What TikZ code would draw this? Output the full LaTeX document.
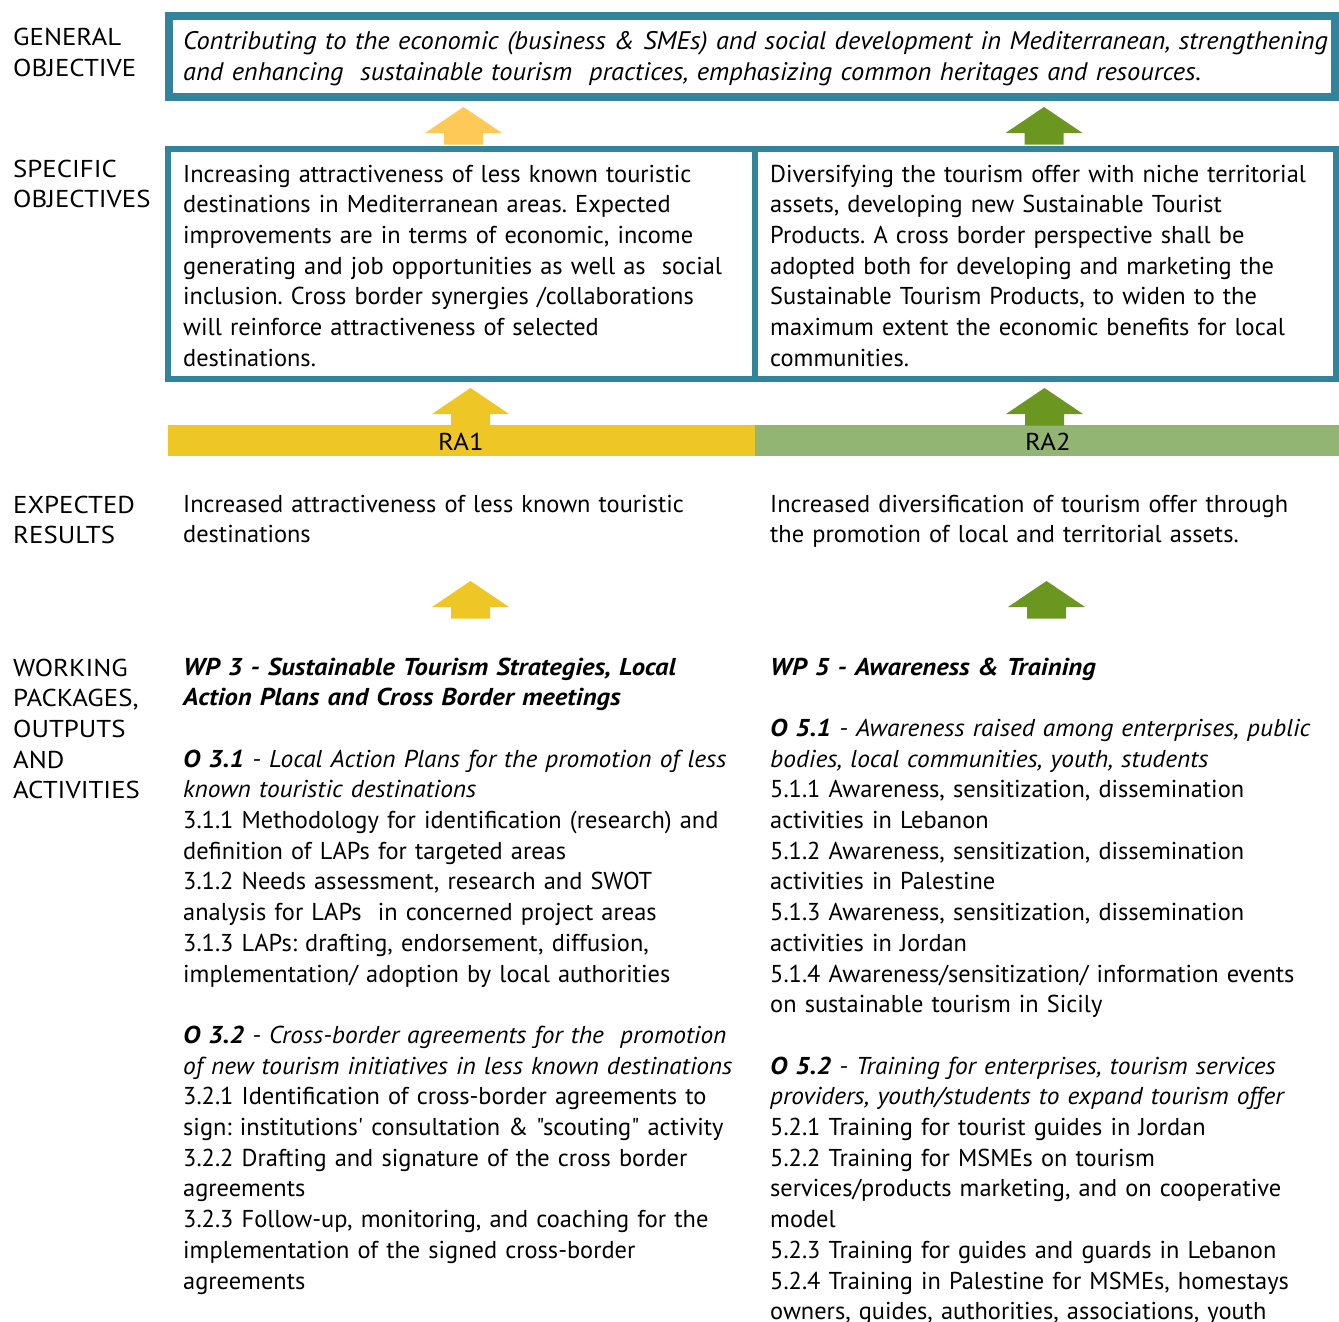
\documentclass[tikz,border=0pt]{standalone}
\usepackage{fontspec}
\setmainfont{PT Sans}[Ligatures=TeXOff,
	ItalicFeatures={FakeStretch=1.04},
	BoldItalicFeatures={FakeStretch=1.09}]
\newfontfamily\lblfont{PT Sans}[FakeStretch=1.1]
\usepackage{xcolor}
\usepackage{tikz}

\definecolor{boxteal}{HTML}{31849B}
\definecolor{arrowamber}{HTML}{FFC957}
\definecolor{ragold}{HTML}{EEC726}
\definecolor{arrowolive}{HTML}{6B961F}
\definecolor{rasage}{HTML}{93B573}

\tikzset{
	txt/.style={anchor=base west, inner sep=0, align=left, text width=#1,
		font=\fontsize{24.4}{30.7}\selectfont\frenchspacing},
	txt/.default=560,
	lbl/.style={txt=150, font=\fontsize{24.4}{30.7}\selectfont\lblfont},
	ralbl/.style={anchor=base, inner sep=0, font=\fontsize{24.4}{30.7}\selectfont\lblfont}
}

\begin{document}
\begin{tikzpicture}[x=1pt,y=-1pt]
\useasboundingbox (0,0) rectangle (1339,1322);

% row labels
\node[lbl] (genlbl) at (13,46) {GENERAL\\OBJECTIVE};
\node[lbl] (speclbl) at (13,177) {SPECIFIC\\OBJECTIVES};
\node[lbl] (reslbl) at (13,513) {EXPECTED\\RESULTS};
\node[lbl] (wplbl) at (13,676) {WORKING\\PACKAGES,\\OUTPUTS\\AND\\ACTIVITIES};

% boxes
\draw[line width=8, boxteal] (169,16) rectangle (1335,97);
\draw[line width=5.5, boxteal] (168,149) rectangle (755,379);
\draw[line width=5.5, boxteal] (755,149) rectangle (1336,379);

% RA bar
\fill[ragold] (168,425) rectangle (755,456);
\fill[rasage] (755,425) rectangle (1339,456);
\node[ralbl] (ra1) at (461,450) {RA1};
\node[ralbl] (ra2) at (1048,450) {RA2};

% block arrows
\foreach \x/\y/\c in {463.5/107/arrowamber, 1044/107/arrowolive,
	470.5/388/ragold, 1044.5/388/arrowolive,
	470.5/581/ragold, 1046.5/581/arrowolive}{
	\fill[\c] (\x-38.5,\y+26)--(\x,\y)--(\x+38.5,\y+26)--(\x+19.5,\y+26)
		--(\x+19.5,\y+37.5)--(\x-19.5,\y+37.5)--(\x-19.5,\y+26)--cycle;
}

% general objective
\node[txt=1160, font=\fontsize{25.4}{30.7}\selectfont] (gen) at (183,50) {\itshape Contributing to the economic (business \& SMEs) and social development in Mediterranean, strengthening\\
and enhancing\ \ sustainable tourism\ \ practices, emphasizing common heritages and resources.};

% specific objectives
\node[txt] (spec1) at (183,182) {Increasing attractiveness of less known touristic\\
destinations in Mediterranean areas. Expected\\
improvements are in terms of economic, income\\
generating and job opportunities as well as\ \ social\\
inclusion. Cross border synergies /collaborations\\
will reinforce attractiveness of selected\\
destinations.};
\node[txt] (spec2) at (770,182) {Diversifying the tourism offer with niche territorial\\
assets, developing new Sustainable Tourist\\
Products. A cross border perspective shall be\\
adopted both for developing and marketing the\\
Sustainable Tourism Products, to widen to the\\
maximum extent the economic benefits for local\\
communities.};

% expected results
\node[txt] (res1) at (183,512) {Increased attractiveness of less known touristic\\
destinations};
\node[txt] (res2) at (770,512) {Increased diversification of tourism offer through\\
the promotion of local and territorial assets.};

% working packages
\node[txt] (wp3) at (183,675) {\textbf{\textit{WP 3 - Sustainable Tourism Strategies, Local}}\\
\textbf{\textit{Action Plans and Cross Border meetings}}\\
\strut\\
\textbf{\textit{O 3.1}} \textit{- Local Action Plans for the promotion of less}\\
\textit{known touristic destinations}\\
3.1.1 Methodology for identification (research) and\\
definition of LAPs for targeted areas\\
3.1.2 Needs assessment, research and SWOT\\
analysis for LAPs\ \ in concerned project areas\\
3.1.3 LAPs: drafting, endorsement, diffusion,\\
implementation/ adoption by local authorities\\
\strut\\
\textbf{\textit{O 3.2}} \textit{- Cross-border agreements for the\ \ promotion}\\
\textit{of new tourism initiatives in less known destinations}\\
3.2.1 Identification of cross-border agreements to\\
sign: institutions' consultation \& "scouting" activity\\
3.2.2 Drafting and signature of the cross border\\
agreements\\
3.2.3 Follow-up, monitoring, and coaching for the\\
implementation of the signed cross-border\\
agreements};
\node[txt] (wp5) at (770,675) {\textbf{\textit{WP 5 - Awareness \& Training}}\\
\strut\\
\textbf{\textit{O 5.1}} \textit{- Awareness raised among enterprises, public}\\
\textit{bodies, local communities, youth, students}\\
5.1.1 Awareness, sensitization, dissemination\\
activities in Lebanon\\
5.1.2 Awareness, sensitization, dissemination\\
activities in Palestine\\
5.1.3 Awareness, sensitization, dissemination\\
activities in Jordan\\
5.1.4 Awareness/sensitization/ information events\\
on sustainable tourism in Sicily\\
\strut\\
\textbf{\textit{O 5.2}} \textit{- Training for enterprises, tourism services}\\
\textit{providers, youth/students to expand tourism offer}\\
5.2.1 Training for tourist guides in Jordan\\
5.2.2 Training for MSMEs on tourism\\
services/products marketing, and on cooperative\\
model\\
5.2.3 Training for guides and guards in Lebanon\\
5.2.4 Training in Palestine for MSMEs, homestays\\
owners, guides, authorities, associations, youth};

\end{tikzpicture}
\end{document}
